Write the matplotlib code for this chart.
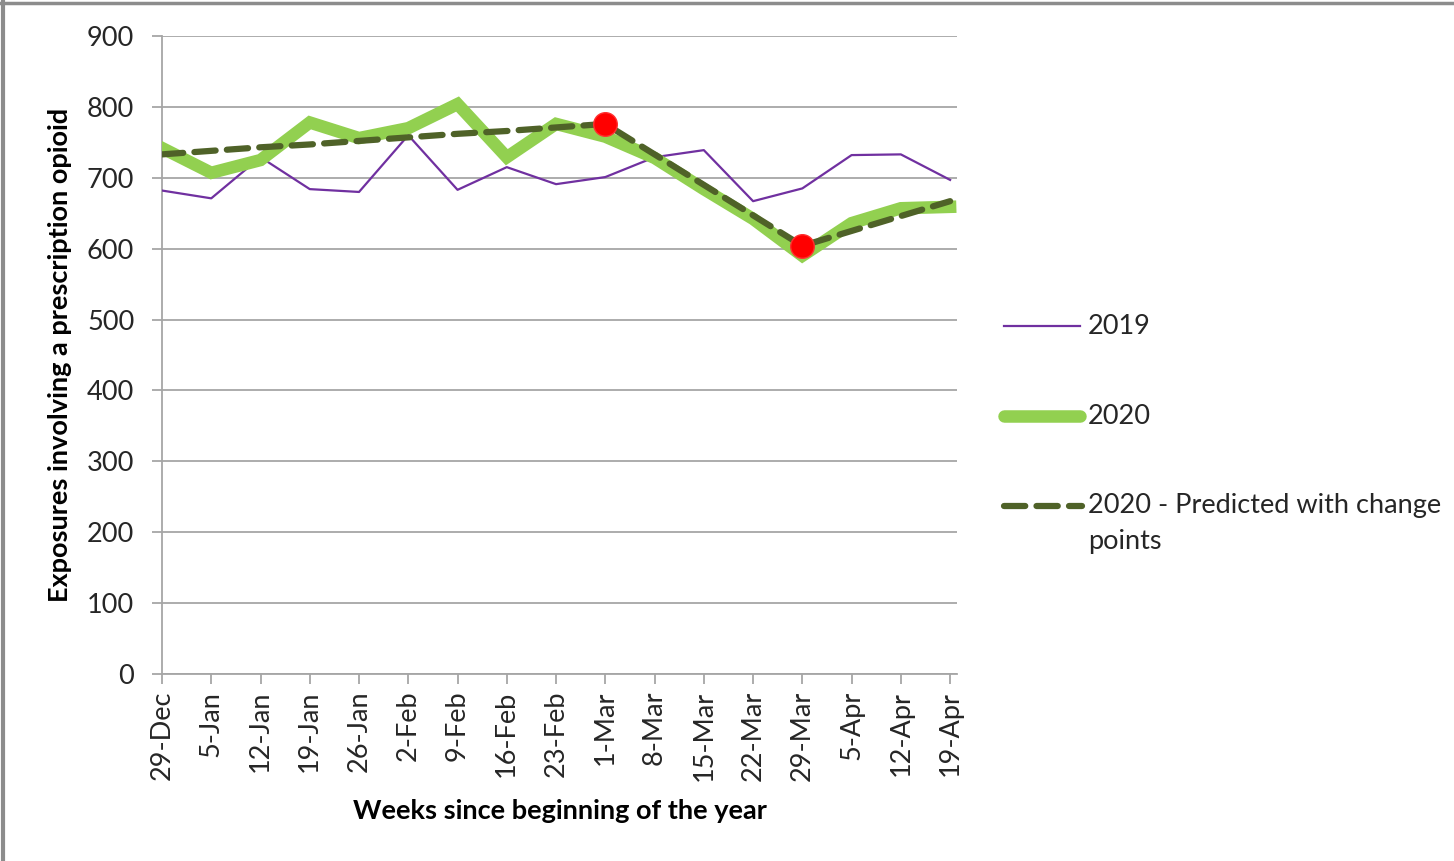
import matplotlib
matplotlib.use("Agg")
import matplotlib.pyplot as plt
from matplotlib.lines import Line2D

# Weekly data
weeks = ['29-Dec', '5-Jan', '12-Jan', '19-Jan', '26-Jan', '2-Feb', '9-Feb', '16-Feb',
         '23-Feb', '1-Mar', '8-Mar', '15-Mar', '22-Mar', '29-Mar', '5-Apr', '12-Apr', '19-Apr']
exp_2019 = [682, 671, 729, 684, 680, 760, 683, 715, 691, 701, 729, 739, 667, 685, 732, 733, 697]
exp_2020 = [742, 707, 725, 778, 756, 770, 804, 729, 776, 758, 728, 684, 642, 590, 636, 657, 659]
predicted = [733, 738, 743, 747, 752, 757, 762, 766, 771, 776, 733, 690, 647, 604, 625, 646, 667]
change_weeks = ['1-Mar', '29-Mar']
change_vals = [776, 604]

plt.rcParams['font.family'] = ['Lato', 'DejaVu Sans']
FS = 19.5

fig = plt.figure(figsize=(14.54, 8.61), dpi=100)
ax = fig.add_axes([162/1454, 1 - 674/861, (957 - 162)/1454, (674 - 36)/861])

x = list(range(len(weeks)))
cx = [weeks.index(w) for w in change_weeks]

ax.plot(x, exp_2019, color='#7030A0', lw=1.6, zorder=3)
ax.plot(x, exp_2020, color='#92D050', lw=9, solid_joinstyle='miter', zorder=4)
ax.plot(x, predicted, color='#4F6228', lw=4.5, dashes=(3.4, 1.8), dash_capstyle='round', zorder=5)
ax.plot(cx, change_vals, 'o', color='#FF0000', ms=17, mec='#FF3030', mew=1, zorder=6)

ax.set_xlim(0, 16.14)
ax.set_ylim(0, 900)
ax.set_yticks(range(0, 901, 100))
ax.set_xticks(x)
ax.set_xticklabels(weeks, rotation=90)
ax.grid(axis='y', color='#A6A6A6', lw=1.3)
ax.set_axisbelow(True)
for s in ['top', 'right']:
    ax.spines[s].set_visible(False)
for s in ['left', 'bottom']:
    ax.spines[s].set_color('#A6A6A6')
    ax.spines[s].set_linewidth(1.3)
ax.tick_params(axis='both', colors='#A6A6A6', labelcolor='#262626', labelsize=FS, length=7, width=1.3)
ax.tick_params(axis='y', pad=13)
ax.tick_params(axis='x', pad=5)

ax.set_xlabel('Weeks since beginning of the year', fontsize=FS, fontweight='bold', labelpad=13)
ax.set_ylabel('Exposures involving a prescription opioid', fontsize=FS, fontweight='bold', labelpad=11)

# legend drawn at the right
def fx(px):
    return px / 1454
def fy(py):
    return 1 - py / 861

fig.add_artist(Line2D([fx(1004), fx(1080)], [fy(326), fy(326)], color='#7030A0', lw=1.6))
fig.add_artist(Line2D([fx(1004), fx(1080)], [fy(416), fy(416)], color='#92D050', lw=9, solid_capstyle='round'))
fig.add_artist(Line2D([fx(1004), fx(1082)], [fy(506), fy(506)], color='#4F6228', lw=4.5,
                      dashes=(3.4, 1.8), dash_capstyle='round'))
fig.text(fx(1088), fy(326), '2019', fontsize=FS, color='#262626', va='center')
fig.text(fx(1088), fy(416), '2020', fontsize=FS, color='#262626', va='center')
fig.text(fx(1088), fy(506), '2020 - Predicted with change', fontsize=FS, color='#262626', va='center')
fig.text(fx(1088), fy(541), 'points', fontsize=FS, color='#262626', va='center')

# frame of the original screenshot
fig.add_artist(Line2D([fx(3), fx(3)], [0, 1], color='#8C8C8C', lw=3))
fig.add_artist(Line2D([0, 1], [fy(3), fy(3)], color='#8C8C8C', lw=2.5))

fig.savefig('out.png', dpi=100)
